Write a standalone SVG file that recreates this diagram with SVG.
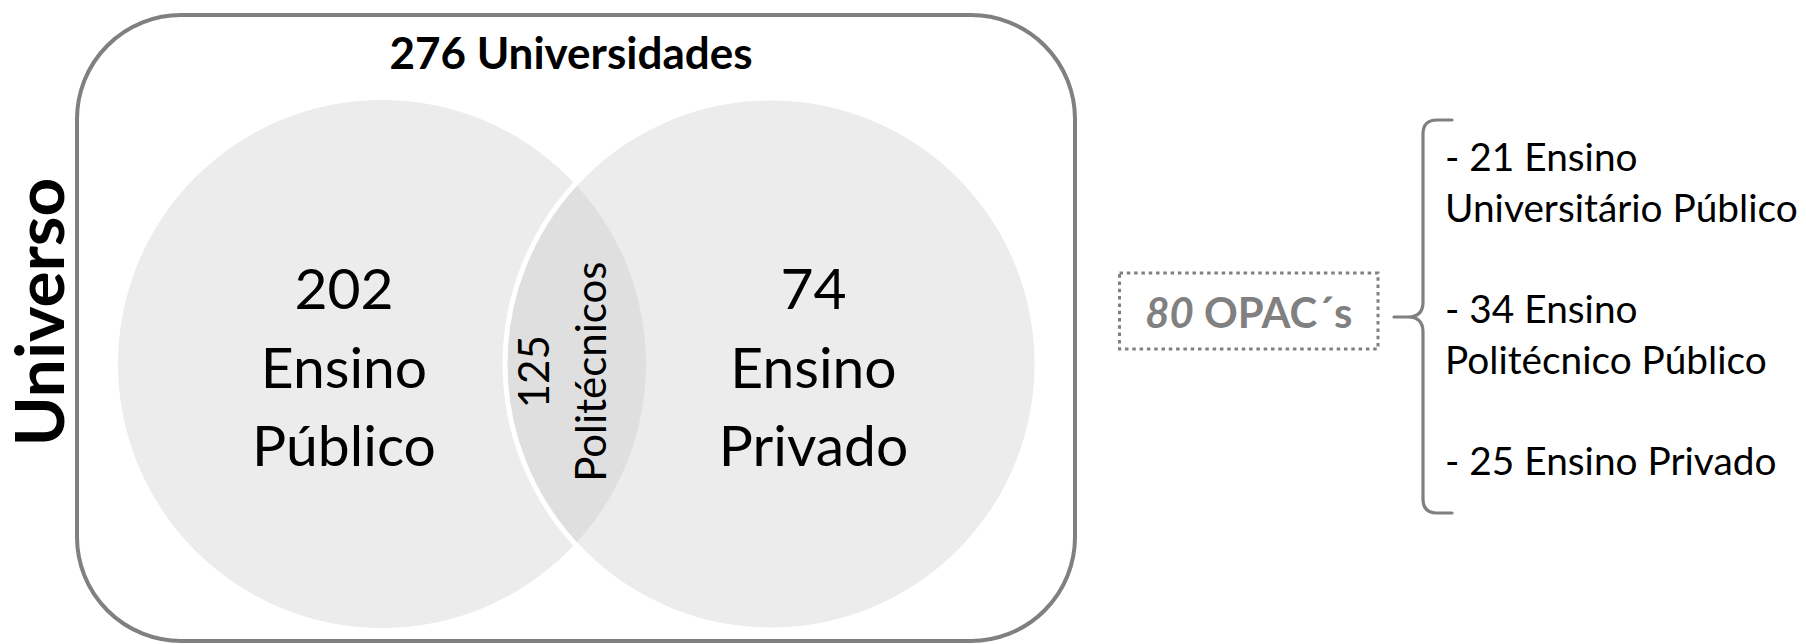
<svg xmlns="http://www.w3.org/2000/svg" width="1806" height="644" viewBox="0 0 1806 644">
<style>
text { font-family: Lato, "Liberation Sans", sans-serif; fill: #000; }
.b { font-weight: bold; }
.big { font-size: 57px; text-anchor: middle; }
.mid { font-size: 42px; text-anchor: middle; }
.list { font-size: 38.8px; }
.gray { fill: #808080; }
.frame { fill: #fff; stroke: #808080; stroke-width: 4; }
.set { fill: #ececec; }
.overlap { fill: #dfdfdf; }
.edge { fill: none; stroke: #fff; stroke-width: 5; }
.dot { fill: #fff; stroke: #808080; stroke-width: 3; stroke-dasharray: 3.5 3.8; }
.brace { fill: none; stroke: #808080; stroke-width: 3.2; stroke-linecap: round; stroke-linejoin: round; }
</style>
<defs>
<clipPath id="leftClip"><circle cx="382" cy="364" r="264"/></clipPath>
</defs>
<g id="universo-frame">
<rect class="frame" x="77" y="15" width="998" height="626" rx="104" ry="104"/>
<text class="b" x="571" y="69" font-size="44" text-anchor="middle">276 Universidades</text>
<text class="b" font-size="67.5" text-anchor="middle" transform="translate(63.6,312) rotate(-90)">Universo</text>
</g>
<g id="ensino-publico">
<circle class="set" cx="382" cy="364" r="264"/>
<text class="big" x="344" y="308.8">202</text>
<text class="big" x="344" y="388">Ensino</text>
<text class="big" x="344" y="466">Público</text>
</g>
<g id="ensino-privado">
<circle class="set" cx="771" cy="364" r="266"/>
<circle class="overlap" cx="771" cy="364" r="266" clip-path="url(#leftClip)"/>
<circle class="edge" cx="771" cy="364" r="266"/>
<text class="big" x="813.5" y="308.8">74</text>
<text class="big" x="813.5" y="388">Ensino</text>
<text class="big" x="813.5" y="466">Privado</text>
</g>
<g id="politecnicos">
<text class="mid" transform="translate(548.5,371.7) rotate(-90)">125</text>
<text class="mid" font-size="43" transform="translate(605.7,371.7) rotate(-90)">Politécnicos</text>
</g>
<g id="opacs">
<rect class="dot" x="1119.5" y="273" width="258.5" height="76"/>
<text class="b gray" x="1248.8" y="327.7" font-size="41.8" text-anchor="middle"><tspan font-style="italic">80</tspan> OPAC´s</text>
</g>
<g id="connectors">
<path class="brace" d="M1452,120 L1437,120 Q1423,120 1423,134 L1423,302 Q1423,317 1408,317 L1394,317 M1408,317 Q1423,317 1423,332 L1423,499 Q1423,513 1437,513 L1452,513"/>
</g>
<g id="breakdown">
<text class="list" x="1445" y="170.7">- 21 Ensino</text>
<text class="list" x="1445" y="221.5">Universitário Público</text>
<text class="list" x="1445" y="323">- 34 Ensino</text>
<text class="list" x="1445" y="373.8">Politécnico Público</text>
<text class="list" x="1445" y="475.3">- 25 Ensino Privado</text>
</g>
</svg>
